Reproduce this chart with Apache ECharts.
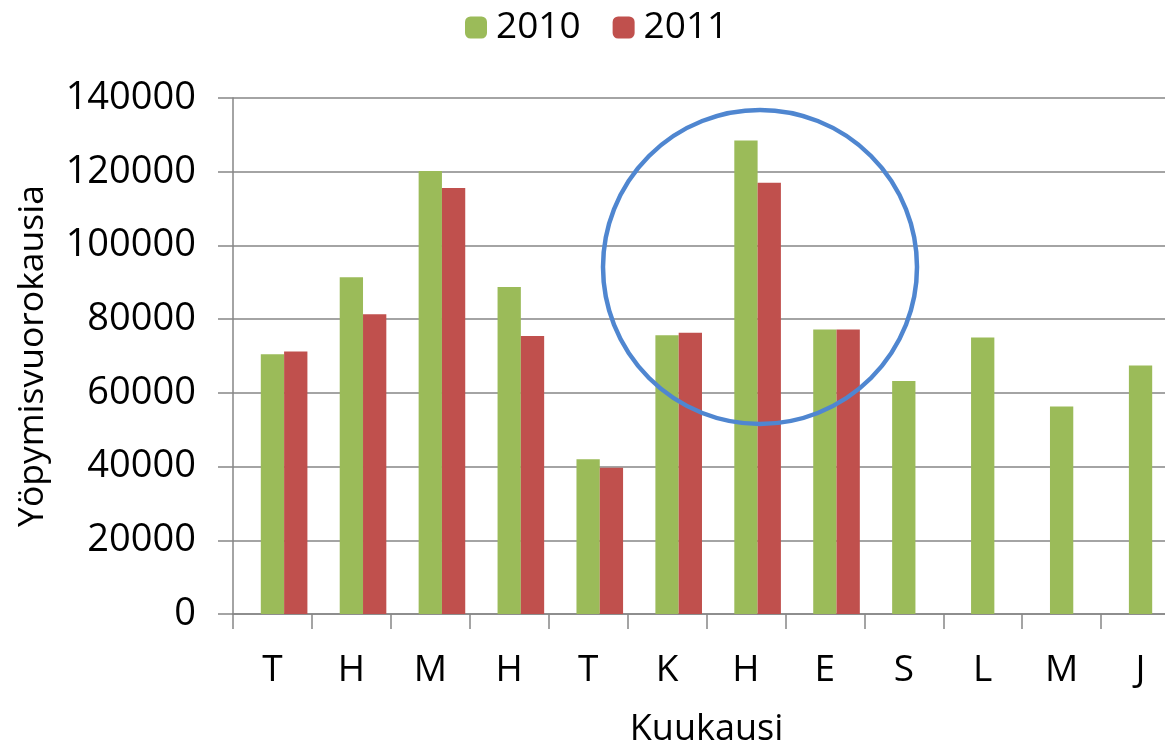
<!DOCTYPE html>
<html>
<head>
<meta charset="utf-8">
<script src="https://cdn.jsdelivr.net/npm/echarts@6/dist/echarts.min.js"></script>
<style>
html,body{margin:0;padding:0;background:#fff;}
#chart{width:1165px;height:746px;}
</style>
</head>
<body>
<div id="chart"></div>
<script>
const months = ['T','H','M','H','T','K','H','E','S','L','M','J'];
const values2010 = [70500, 91400, 120200, 88700, 42000, 75600, 128500, 77200, 63200, 75000, 56300, 67400];
const values2011 = [71200, 81300, 115600, 75400, 39700, 76300, 117000, 77200, null, null, null, null];
const yTicks = [0, 20000, 40000, 60000, 80000, 100000, 120000, 140000];
// empty slot left of the 2010 bars so that 2010 bars sit centred on each month
const spacer = months.map(() => null);

const FONT = 'Open Sans';
const BW = 23.3;
const chart = echarts.init(document.getElementById('chart'), null, {renderer:'canvas'});
const option = {
  animation: false,
  backgroundColor: '#ffffff',
  textStyle: {fontFamily: FONT},
  legend: {
    top: 4,
    left: 460,
    itemWidth: 22,
    itemHeight: 22,
    itemGap: 32,
    textStyle: {fontFamily: FONT, fontSize: 37, color: '#000', padding: [0,0,0,4]},
    data: ['2010', '2011']
  },
  grid: {left: 233, width: 947, top: 98, height: 516, outerBoundsMode: 'none', containLabel: false},
  xAxis: {
    type: 'category',
    data: months,
    name: 'Kuukausi',
    nameLocation: 'middle',
    nameGap: 98,
    nameTextStyle: {fontFamily: FONT, fontSize: 36, color: '#000'},
    axisLine: {lineStyle: {color: '#868686', width: 1.5}},
    axisTick: {show: true, length: 15, lineStyle: {color: '#868686', width: 1.5}},
    axisLabel: {fontFamily: FONT, fontSize: 37, color: '#000', margin: 38},
  },
  yAxis: {
    type: 'value',
    min: 0,
    max: 140000,
    interval: 20000,
    name: 'Yöpymisvuorokausia',
    nameLocation: 'middle',
    nameGap: 182,
    nameTextStyle: {fontFamily: FONT, fontSize: 35.5, color: '#000'},
    axisLine: {show: true, lineStyle: {color: '#868686', width: 1.5}},
    axisTick: {show: true, length: 15, lineStyle: {color: '#868686', width: 1.5}},
    axisLabel: {fontFamily: FONT, fontSize: 38, color: '#000', margin: 37,
      formatter: v => yTicks.includes(v) ? String(v) : ''},
    splitLine: {lineStyle: {color: '#868686', width: 1.5}}
  },
  series: [
    {name: 'spacer', type: 'bar', data: spacer, barGap: '0%', barWidth: BW,
     itemStyle: {color: 'rgba(0,0,0,0)'}, silent: true},
    {name: '2010', type: 'bar', data: values2010, barGap: '0%', barWidth: BW,
     itemStyle: {color: '#9BBB59'}},
    {name: '2011', type: 'bar', data: values2011, barGap: '0%', barWidth: BW,
     itemStyle: {color: '#C0504D'}}
  ],
  graphic: [{
    type: 'circle',
    shape: {cx: 760, cy: 267, r: 157},
    style: {fill: 'none', stroke: '#4F86D0', lineWidth: 4.5},
    z: 100
  }]
};
chart.setOption(option);
</script>
</body>
</html>
